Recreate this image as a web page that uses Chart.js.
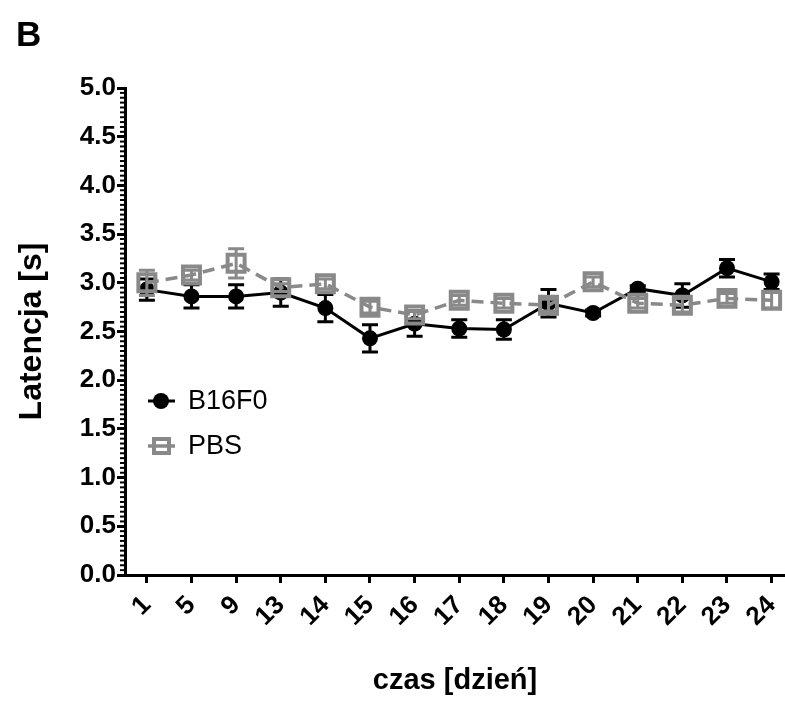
<!DOCTYPE html>
<html>
<head>
<meta charset="utf-8">
<script src="https://cdn.jsdelivr.net/npm/chart.js@4.4.1/dist/chart.umd.min.js"></script>
<style>
    body { margin: 0; background: #fff; }
    canvas { display: block; }
</style>
</head>
<body>
<canvas id="latency" width="785" height="704"></canvas>
<script>
// Dni pomiaru
const days = ['1', '5', '9', '13', '14', '15', '16', '17', '18', '19', '20', '21', '22', '23', '24'];

// Średnia latencja [s] i SEM dla grupy B16F0
const b16Mean = [2.93, 2.86, 2.86, 2.90, 2.74, 2.43, 2.58, 2.53, 2.52, 2.79, 2.69, 2.94, 2.87, 3.15, 3.01];
const b16Sem  = [0.11, 0.12, 0.12, 0.14, 0.14, 0.14, 0.13, 0.09, 0.10, 0.14, 0.03, 0.03, 0.12, 0.09, 0.08];

// Średnia latencja [s] i SEM dla grupy PBS
const pbsMean = [3.00, 3.08, 3.20, 2.95, 2.99, 2.75, 2.67, 2.82, 2.79, 2.77, 3.01, 2.79, 2.77, 2.84, 2.82];
const pbsSem  = [0.13, 0.05, 0.15, 0.04, 0.05, 0.06, 0.04, 0.05, 0.05, 0.06, 0.05, 0.05, 0.07, 0.05, 0.08];

const yTicks = [0, 0.5, 1, 1.5, 2, 2.5, 3, 3.5, 4, 4.5, 5];

const FONT = "'Liberation Sans', Arial, sans-serif";
const GREY = '#898989';

Chart.defaults.color = '#000';
Chart.defaults.font.family = FONT;

// Słupki błędów rysowane pod punktami danej serii
const errorBars = {
    id: 'errorBars',
    beforeDatasetDraw(chart, args) {
        const ds = chart.data.datasets[args.index];
        const ctx = chart.ctx;
        const x = chart.scales.x;
        const y = chart.scales.y;
        ctx.save();
        ctx.strokeStyle = ds.borderColor;
        ctx.lineWidth = 3;
        ctx.setLineDash([]);
        ds.data.forEach((p, i) => {
            const px = x.getPixelForValue(p.x);
            const top = y.getPixelForValue(p.y + ds.sem[i]);
            const bottom = y.getPixelForValue(p.y - ds.sem[i]);
            ctx.beginPath();
            ctx.moveTo(px, top);
            ctx.lineTo(px, bottom);
            ctx.moveTo(px - 8, top);
            ctx.lineTo(px + 8, top);
            ctx.moveTo(px - 8, bottom);
            ctx.lineTo(px + 8, bottom);
            ctx.stroke();
        });
        ctx.restore();
    }
};

// Drobne kreski na osi Y, litera panelu i legenda wewnątrz wykresu
const decorations = {
    id: 'decorations',
    afterDraw(chart) {
        const ctx = chart.ctx;
        const y = chart.scales.y;
        const area = chart.chartArea;

        ctx.save();
        ctx.strokeStyle = '#000';
        ctx.lineWidth = 2;
        for (let k = 1; k < 100; k++) {
            if (k % 10 === 0) continue;
            const py = y.getPixelForValue(k * 0.05);
            ctx.beginPath();
            ctx.moveTo(area.left - 1, py);
            ctx.lineTo(area.left - 5, py);
            ctx.stroke();
        }

        ctx.fillStyle = '#000';
        ctx.font = 'bold 35px ' + FONT;
        ctx.textBaseline = 'middle';
        ctx.textAlign = 'left';
        ctx.fillText('B', 16, 36);

        // legenda
        const lx = area.left + 23;
        const rows = [401, 446];
        const sets = chart.data.datasets;

        ctx.lineWidth = 3;
        ctx.strokeStyle = '#000';
        ctx.beginPath();
        ctx.moveTo(lx, rows[0]);
        ctx.lineTo(lx + 27, rows[0]);
        ctx.stroke();
        ctx.beginPath();
        ctx.arc(lx + 13, rows[0], 8, 0, Math.PI * 2);
        ctx.fill();

        ctx.strokeStyle = GREY;
        ctx.lineWidth = 3.5;
        ctx.beginPath();
        ctx.moveTo(lx, rows[1]);
        ctx.lineTo(lx + 27, rows[1]);
        ctx.stroke();
        ctx.lineWidth = 4;
        ctx.strokeRect(lx + 6, rows[1] - 7, 15, 14);

        ctx.fillStyle = '#000';
        ctx.font = '27px ' + FONT;
        ctx.fillText(sets[0].label, lx + 40, rows[0] + 1);
        ctx.fillText(sets[1].label, lx + 40, rows[1] + 1);
        ctx.restore();
    }
};

const ctx = document.getElementById('latency').getContext('2d');

new Chart(ctx, {
    type: 'line',
    data: {
        datasets: [{
            label: 'B16F0',
            data: days.map((d, i) => ({ x: i, y: b16Mean[i] })),
            sem: b16Sem,
            borderColor: '#000',
            backgroundColor: '#000',
            borderWidth: 3,
            pointRadius: 8,
            pointBorderWidth: 0,
            pointBackgroundColor: '#000',
            order: 2
        }, {
            label: 'PBS',
            data: days.map((d, i) => ({ x: i, y: pbsMean[i] })),
            sem: pbsSem,
            borderColor: GREY,
            backgroundColor: 'rgba(255,255,255,0)',
            borderWidth: 3.5,
            borderDash: [12, 7],
            pointStyle: 'rect',
            pointRadius: 12,
            pointBorderWidth: 4,
            pointBorderColor: GREY,
            pointBackgroundColor: 'rgba(255,255,255,0)',
            order: 1
        }]
    },
    options: {
        responsive: false,
        animation: false,
        layout: { autoPadding: false, padding: { top: 88, left: 0, right: 0, bottom: 0 } },
        plugins: {
            legend: { display: false },
            tooltip: { enabled: false }
        },
        scales: {
            x: {
                type: 'linear',
                min: -0.49,
                max: 14.3,
                afterBuildTicks: (s) => { s.ticks = days.map((d, i) => ({ value: i })); },
                afterFit: (s) => { s.height = 129; s.paddingLeft = 0; s.paddingRight = 0; },
                ticks: {
                    autoSkip: false,
                    minRotation: 45,
                    maxRotation: 45,
                    padding: 7,
                    font: { size: 26, weight: 'bold' },
                    callback: (v) => days[v]
                },
                grid: {
                    drawOnChartArea: false,
                    tickLength: 8,
                    tickWidth: 3,
                    color: '#000'
                },
                border: { display: true, width: 3, color: '#000' },
                title: {
                    display: true,
                    text: 'czas [dzień]',
                    font: { size: 29, weight: 'bold' },
                    padding: { top: 0, bottom: 6 }
                }
            },
            y: {
                min: 0,
                max: 5,
                afterBuildTicks: (s) => { s.ticks = yTicks.map(v => ({ value: v })); },
                afterFit: (s) => { s.width = 125; s.paddingTop = 0; s.paddingBottom = 0; },
                ticks: {
                    padding: 1,
                    font: { size: 26, weight: 'bold' },
                    callback: (v) => v.toFixed(1)
                },
                grid: {
                    drawOnChartArea: false,
                    tickLength: 8,
                    tickWidth: 3,
                    color: '#000'
                },
                border: { display: true, width: 3, color: '#000' },
                title: {
                    display: true,
                    text: 'Latencja [s]',
                    font: { size: 32, weight: 'bold' },
                    padding: { top: 13, bottom: 0 }
                }
            }
        }
    },
    plugins: [errorBars, decorations]
});
</script>
</body>
</html>
